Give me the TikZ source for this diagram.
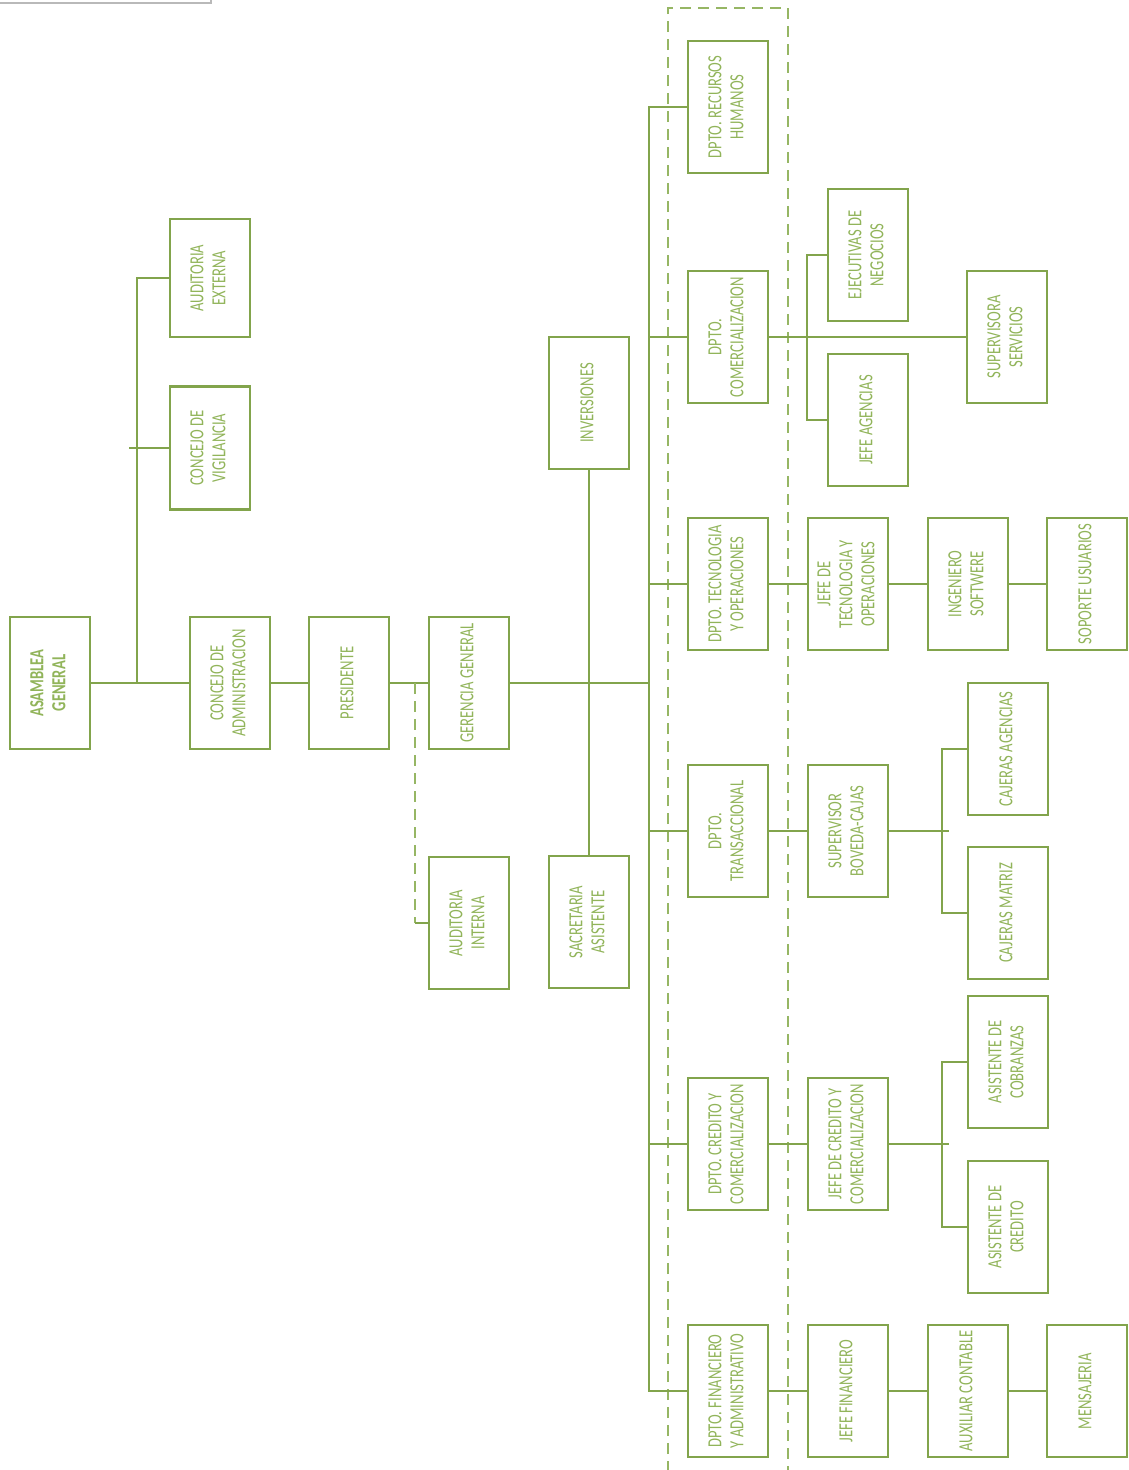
\documentclass[tikz,border=0pt]{standalone}
\usepackage{fontspec}
\setmainfont{Carlito}[FakeStretch=0.73]
\usepackage{graphicx}
\usetikzlibrary{calc}
\definecolor{borde}{RGB}{130,164,76}
\definecolor{letra}{RGB}{145,180,90}
\definecolor{marco}{RGB}{150,182,100}
\newcommand{\vt}[1]{\rotatebox{90}{\begin{tabular}{@{}c@{}}#1\end{tabular}}}

\begin{document}
\begin{tikzpicture}[x=1pt,y=-1pt,
  caja/.style={draw=borde,line width=2.2pt,minimum width=80pt,minimum height=132pt,inner sep=0pt,
    text=letra,font=\fontsize{20}{22}\selectfont},
  linea/.style={draw=borde,line width=2pt},
  discont/.style={draw=marco,line width=2.8pt,dash pattern=on 11pt off 7pt}]
\useasboundingbox (0,0) rectangle (1129,1470);
\draw[gray!55,line width=2pt] (0,3) -- (211,3) -- (211,0);
% contorno de los departamentos
\draw[discont] (668,1472) |- (788,8) -- (788,1472);
% nivel directivo
\node[caja] (asamblea) at (50,683) {\vt{\textbf{ASAMBLEA}\\\textbf{GENERAL}}};
\node[caja] (concadm) at (230,683) {\vt{CONCEJO DE\\ADMINISTRACION}};
\node[caja] (presid) at (349,683) {\vt{PRESIDENTE}};
\node[caja] (gerencia) at (469,683) {\vt{GERENCIA GENERAL}};
\node[caja,minimum height=118pt] (audext) at (210,278) {\vt{AUDITORIA\\EXTERNA}};
\node[caja,minimum height=123pt] (concvig) at (210,448) {\vt{CONCEJO DE\\VIGILANCIA}};
\node[caja] (audint) at (469,923) {\vt{AUDITORIA\\INTERNA}};
\node[caja] (secret) at (589,922) {\vt{SACRETARIA\\ASISTENTE}};
\node[caja] (invers) at (589,403) {\vt{INVERSIONES}};
% departamentos
\node[caja] (drrhh) at (728,107) {\vt{DPTO. RECURSOS\\HUMANOS}};
\node[caja] (dcom) at (728,337) {\vt{DPTO.\\COMERCIALIZACION}};
\node[caja] (dtec) at (728,584) {\vt{DPTO. TECNOLOGIA\\Y OPERACIONES}};
\node[caja] (dtrans) at (728,831) {\vt{DPTO.\\TRANSACCIONAL}};
\node[caja] (dcred) at (728,1144) {\vt{DPTO. CREDITO Y\\COMERCIALIZACION}};
\node[caja] (dfin) at (728,1391) {\vt{DPTO. FINANCIERO\\Y ADMINISTRATIVO}};
% personal
\node[caja] (ejec) at (868,255) {\vt{EJECUTIVAS DE\\NEGOCIOS}};
\node[caja] (jefeag) at (868,420) {\vt{JEFE AGENCIAS}};
\node[caja] (supserv) at (1007,337) {\vt{SUPERVISORA\\SERVICIOS}};
\node[caja] (jtec) at (848,584) {\vt{JEFE DE\\TECNOLOGIA Y\\OPERACIONES}};
\node[caja] (ingsw) at (968,584) {\vt{INGENIERO\\SOFTWERE}};
\node[caja] (soporte) at (1087,584) {\vt{SOPORTE USUARIOS}};
\node[caja] (supbov) at (848,831) {\vt{SUPERVISOR\\BOVEDA-CAJAS}};
\node[caja] (cajag) at (1008,749) {\vt{CAJERAS AGENCIAS}};
\node[caja] (cajmat) at (1008,913) {\vt{CAJERAS MATRIZ}};
\node[caja] (jcred) at (848,1144) {\vt{JEFE DE CREDITO Y\\COMERCIALIZACION}};
\node[caja] (asicob) at (1008,1062) {\vt{ASISTENTE DE\\COBRANZAS}};
\node[caja] (asicred) at (1008,1227) {\vt{ASISTENTE DE\\CREDITO}};
\node[caja] (jfin) at (848,1391) {\vt{JEFE FINANCIERO}};
\node[caja] (auxcont) at (968,1391) {\vt{AUXILIAR CONTABLE}};
\node[caja] (mensaj) at (1087,1391) {\vt{MENSAJERIA}};
% conexiones
\coordinate (ramaext) at (137,683);
\coordinate (ramaint) at (415,683);
\coordinate (bus) at (649,683);
\draw[linea] (asamblea) -- (concadm) -- (presid) -- (gerencia);
\draw[linea] (audext.west) -| (ramaext);
\draw[linea] (concvig.west) -- ++(-40,0);
\draw[discont,line width=2.4pt] (ramaint) -- (ramaint |- audint.west);
\draw[linea] (ramaint |- audint.west) -- (audint.west);
\draw[linea] (gerencia) -- (bus);
\draw[linea] (invers) -- (secret);
\draw[linea] (drrhh.west) -| (bus);
\draw[linea] (dcom.west) -| (bus);
\draw[linea] (dtec.west) -| (bus);
\draw[linea] (dtrans.west) -| (bus);
\draw[linea] (dcred.west) -| (bus);
\draw[linea] (dfin.west) -| (bus);
\draw[linea] (dcom) -- (supserv);
\draw[linea] (ejec.west) -- ++(-20,0) |- (jefeag.west);
\draw[linea] (dtec) -- (jtec) -- (ingsw) -- (soporte);
\draw[linea] (dtrans) -- (supbov);
\draw[linea] (supbov.east) -- ++(60,0);
\draw[linea] (cajag.west) -- ++(-25,0) |- (cajmat.west);
\draw[linea] (dcred) -- (jcred);
\draw[linea] (jcred.east) -- ++(60,0);
\draw[linea] (asicob.west) -- ++(-25,0) |- (asicred.west);
\draw[linea] (dfin) -- (jfin) -- (auxcont) -- (mensaj);
\end{tikzpicture}
\end{document}
